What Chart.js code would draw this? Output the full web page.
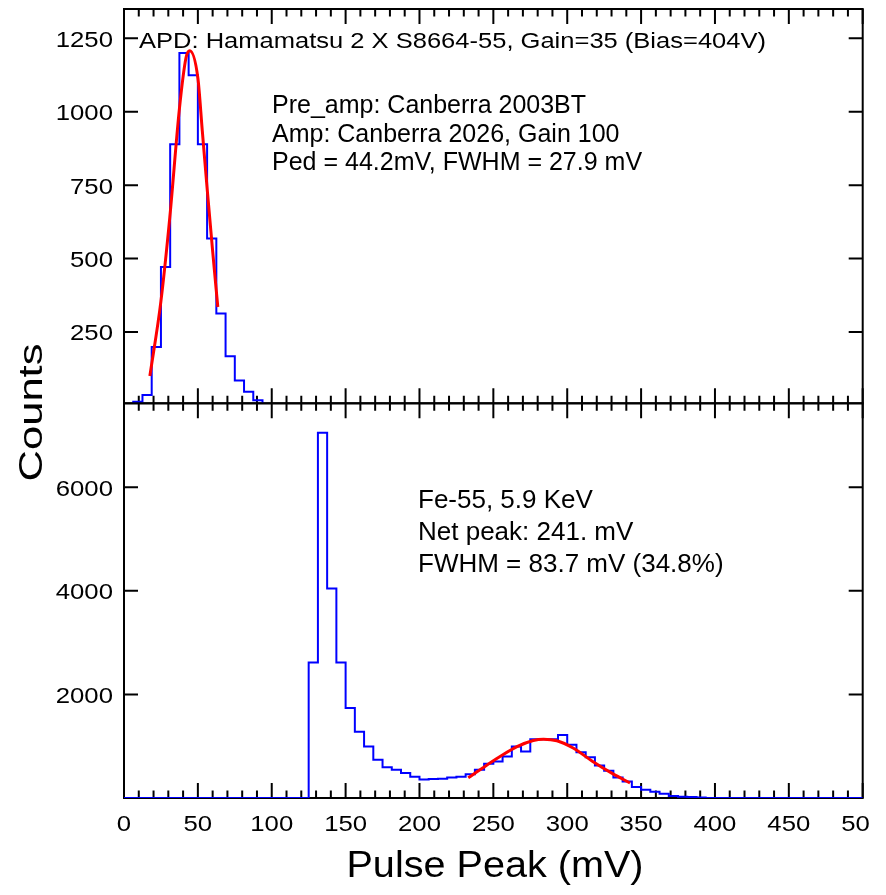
<!DOCTYPE html>
<html>
<head>
<meta charset="utf-8">
<title>APD Fe-55 pulse peak</title>
<script src="https://cdn.jsdelivr.net/npm/chart.js@4.4.1/dist/chart.umd.min.js"></script>
<style>
  html, body { margin: 0; padding: 0; background: #fff; }
  #wrap { position: relative; width: 886px; height: 895px; overflow: hidden; }
  canvas { position: absolute; left: 0; top: 0; }
</style>
</head>
<body>
<div id="wrap">
  <canvas id="top-panel" width="886" height="895"></canvas>
  <canvas id="bottom-panel" width="886" height="895"></canvas>
</div>
<script>
// --- Data ---

const X_MIN = 0;
const X_MAX = 500;
const X_TICKS = [0, 50, 100, 150, 200, 250, 300, 350, 400, 450, 500];
const X_MINOR_STEP = 10;
const BIN_WIDTH = 6.25;

// top panel: pedestal
const TOP_Y_TICKS = [250, 500, 750, 1000, 1250];
const TOP_BIN_START = 6.25;
const TOP_COUNTS = [12, 35, 199, 471, 889, 1200, 1124, 889, 568, 313, 167, 85, 46, 17, 5];
const TOP_FIT_X = [17.5, 25, 31, 37.5, 42, 44.5, 50, 53, 56.5, 60, 63.5];
const TOP_FIT_Y = [100, 355, 640, 1010, 1185, 1208, 1115, 935, 725, 525, 335];

// bottom panel: Fe-55 spectrum
const BOTTOM_Y_TICKS = [2000, 4000, 6000];
const BOTTOM_BIN_START = 125;
const BOTTOM_COUNTS = [
    2615, 7050, 4045, 2615, 1737, 1281, 993, 737, 596, 544,
    481, 410, 355, 368, 372, 397, 410, 460, 545, 660,
    705, 801, 994, 897, 1135, 1135, 1135, 1218, 1026, 885,
    788, 628, 526, 397, 320, 212, 160, 122, 83, 40,
    25, 20, 8
];
const BOTTOM_FIT_X = [233, 243, 254, 266, 277, 284, 293, 304, 317, 331, 342.5];
const BOTTOM_FIT_Y = [390, 585, 790, 990, 1110, 1135, 1105, 965, 710, 465, 290];

const TOP_TITLE = 'APD: Hamamatsu 2 X S8664-55, Gain=35 (Bias=404V)';
const TOP_NOTES = ['Pre_amp: Canberra 2003BT', 'Amp: Canberra 2026, Gain 100', 'Ped = 44.2mV, FWHM = 27.9 mV'];
const BOTTOM_NOTES = ['Fe-55, 5.9 KeV', 'Net peak: 241. mV', 'FWHM = 83.7 mV (34.8%)'];
const X_TITLE = 'Pulse Peak (mV)';
const Y_TITLE = 'Counts';

// --- Helpers ---

const FONT = '"Liberation Sans", Arial, Helvetica, sans-serif';

function histPoints(start, counts) {
    const pts = [{ x: X_MIN, y: 0 }];
    counts.forEach((c, i) => pts.push({ x: start + i * BIN_WIDTH, y: c }));
    pts.push({ x: start + counts.length * BIN_WIDTH, y: 0 });
    pts.push({ x: X_MAX, y: 0 });
    return pts;
}

function fitPoints(xs, ys) {
    return xs.map((x, i) => ({ x, y: ys[i] }));
}

// text with optional horizontal stretch (the reference font is wide)
function drawText(ctx, text, x, y, size, align = 'left', sx = 1, rotate = 0) {
    ctx.save();
    ctx.translate(x, y);
    if (rotate) ctx.rotate(rotate);
    ctx.scale(sx, 1);
    ctx.font = size + 'px ' + FONT;
    ctx.textAlign = align;
    ctx.textBaseline = 'alphabetic';
    ctx.fillStyle = '#000';
    ctx.fillText(text, 0, 0);
    ctx.restore();
}

// frame + inward ticks on all four sides
const framePlugin = {
    id: 'frame',
    beforeDatasetsDraw(chart, args, opts) {
        const { ctx, chartArea: a, scales: { x, y } } = chart;
        ctx.save();
        ctx.strokeStyle = '#000';
        ctx.lineWidth = 2;
        ctx.strokeRect(a.left, a.top, a.right - a.left, a.bottom - a.top);
        ctx.beginPath();
        for (let v = X_MIN; v <= X_MAX; v += X_MINOR_STEP) {
            const px = x.getPixelForValue(v);
            const len = X_TICKS.includes(v) ? 15 : 7.5;
            ctx.moveTo(px, a.bottom);
            ctx.lineTo(px, a.bottom - len);
            ctx.moveTo(px, a.top);
            ctx.lineTo(px, a.top + len);
        }
        opts.yTicks.forEach(v => {
            const py = y.getPixelForValue(v);
            ctx.moveTo(a.left, py);
            ctx.lineTo(a.left + 14, py);
            ctx.moveTo(a.right, py);
            ctx.lineTo(a.right - 14, py);
        });
        ctx.stroke();
        ctx.restore();
    },
    afterDraw(chart, args, opts) {
        const { ctx, chartArea: a, scales: { x, y } } = chart;
        opts.yTicks.forEach(v => {
            drawText(ctx, String(v), a.left - 11, y.getPixelForValue(v) + 8.5, 22, 'right', 1.17);
        });
        opts.notes.forEach((t, i) => {
            drawText(ctx, t, opts.noteX, opts.noteY + i * opts.noteStep, opts.noteSize, 'left', 1.0);
        });
        if (opts.title) {
            drawText(ctx, opts.title, 139, 47.5, 22, 'left', 1.16);
        }
        if (opts.xLabels) {
            ctx.save();
            ctx.beginPath();
            ctx.rect(0, 0, 869.5, 895);
            ctx.clip();
            X_TICKS.forEach(v => {
                drawText(ctx, String(v), x.getPixelForValue(v), a.bottom + 33, 22, 'center', 1.17);
            });
            ctx.restore();
            drawText(ctx, X_TITLE, 495, 877, 36, 'center', 1.1);
            drawText(ctx, Y_TITLE, 42, 412.5, 34, 'center', 1.28, -Math.PI / 2);
        }
    }
};

function makePanel(id, cfg) {
    return new Chart(document.getElementById(id), {
        type: 'line',
        data: {
            datasets: [
                {
                    data: fitPoints(cfg.fitX, cfg.fitY),
                    borderColor: '#ff0000',
                    borderWidth: 3,
                    cubicInterpolationMode: 'monotone',
                    pointRadius: 0,
                    fill: false,
                    order: 0,
                },
                {
                    data: histPoints(cfg.binStart, cfg.counts),
                    borderColor: '#0000ff',
                    borderWidth: 2,
                    stepped: true,
                    pointRadius: 0,
                    fill: false,
                    order: 1,
                }
            ]
        },
        options: {
            responsive: false,
            animation: false,
            events: [],
            devicePixelRatio: 1,
            layout: { padding: cfg.padding },
            plugins: {
                legend: { display: false },
                tooltip: { enabled: false },
                frame: cfg.frame,
            },
            scales: {
                x: { type: 'linear', min: X_MIN, max: X_MAX, display: false },
                y: { type: 'linear', min: cfg.yMin, max: cfg.yMax, display: false },
            }
        },
        plugins: [framePlugin]
    });
}

// --- Init ---

makePanel('top-panel', {
    padding: { left: 124, right: 23.3, top: 9, bottom: 491.7 },
    yMin: 7, yMax: 1350,
    binStart: TOP_BIN_START, counts: TOP_COUNTS,
    fitX: TOP_FIT_X, fitY: TOP_FIT_Y,
    frame: { yTicks: TOP_Y_TICKS, notes: TOP_NOTES, noteX: 272, noteY: 113, noteStep: 28.5, noteSize: 25, title: TOP_TITLE },
});

makePanel('bottom-panel', {
    padding: { left: 124, right: 23.3, top: 403.3, bottom: 97 },
    yMin: 0, yMax: 7620,
    binStart: BOTTOM_BIN_START, counts: BOTTOM_COUNTS,
    fitX: BOTTOM_FIT_X, fitY: BOTTOM_FIT_Y,
    frame: { yTicks: BOTTOM_Y_TICKS, notes: BOTTOM_NOTES, noteX: 418, noteY: 508, noteStep: 32, noteSize: 26, xLabels: true },
});
</script>
</body>
</html>
